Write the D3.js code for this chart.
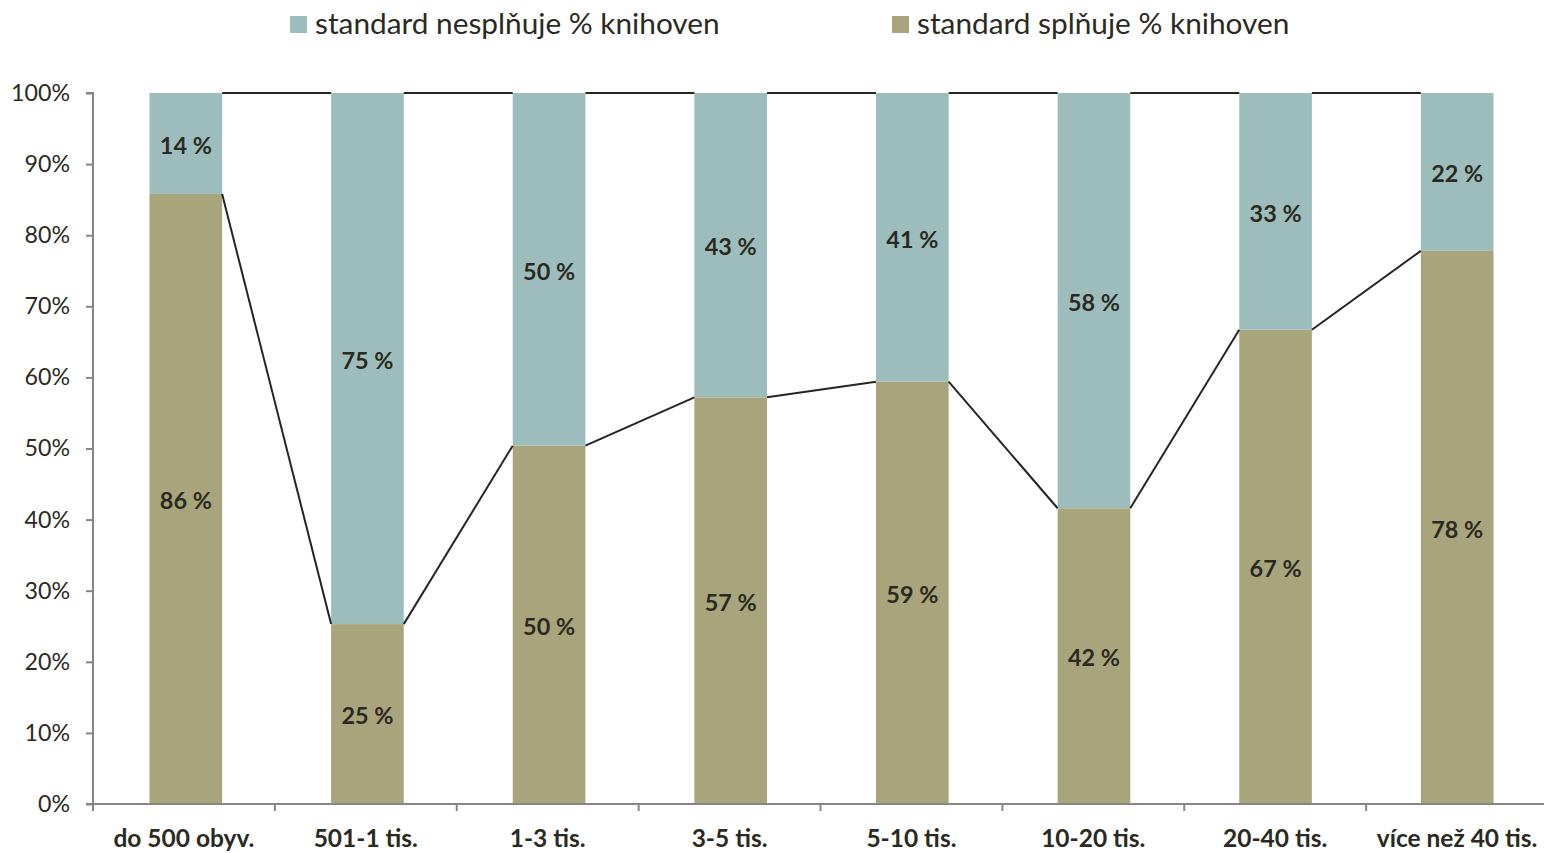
<!DOCTYPE html>
<html><head><meta charset="utf-8">
<script src="https://cdn.jsdelivr.net/npm/d3@7"></script>
<style>body{margin:0;background:#fff}svg{display:block}</style>
</head><body>
<svg id="c" width="1544" height="853"></svg>
<script>
const categories = ["do 500 obyv.","501-1 tis.","1-3 tis.","3-5 tis.","5-10 tis.","10-20 tis.","20-40 tis.","více než 40 tis."];
const splnuje = [85.8, 25.3, 50.4, 57.2, 59.4, 41.6, 66.7, 77.8];
const nesplnuje = [14.2, 74.7, 49.6, 42.8, 40.6, 58.4, 33.3, 22.2];
const seriesNames = ["standard nesplňuje % knihoven","standard splňuje % knihoven"];
const yTicks = [0,10,20,30,40,50,60,70,80,90,100];

const colNe = "#9dbdbc", colSp = "#a8a47b", txt = "#2b2a22", axisCol = "#868686";
const font = "Lato, 'Open Sans', sans-serif";
const svg = d3.select("#c");
const m = {l:93, r:-4, t:93, b:49};
const W = 1544, H = 853;
const x = d3.scaleBand().domain(categories).range([m.l + 2, W - m.r]).paddingInner(0.6).paddingOuter(0.3);
const xs = d3.scaleBand().domain(categories).range([m.l, W - m.r]);
const y = d3.scaleLinear().domain([0,100]).range([H - m.b, m.t]);

// bars
const data = categories.map((c,i)=>({c, s:splnuje[i], n:nesplnuje[i]}));
const g = svg.append("g");
g.selectAll(".sp").data(data).join("rect")
  .attr("x", d=>x(d.c)).attr("width", x.bandwidth())
  .attr("y", d=>y(d.s)).attr("height", d=>y(0)-y(d.s)).attr("fill", colSp);
g.selectAll(".ne").data(data).join("rect")
  .attr("x", d=>x(d.c)).attr("width", x.bandwidth())
  .attr("y", d=>y(d.s+d.n)).attr("height", d=>y(d.s)-y(d.s+d.n)).attr("fill", colNe);

// series lines
for (let i=0;i<data.length-1;i++){
  const a=data[i], b=data[i+1];
  const x1 = x(a.c)+x.bandwidth(), x2 = x(b.c);
  g.append("line").attr("x1",x1).attr("x2",x2).attr("y1",y(a.s)).attr("y2",y(b.s))
    .attr("stroke","#262520").attr("stroke-width",2);
  g.append("line").attr("x1",x1).attr("x2",x2).attr("y1",y(a.s+a.n)).attr("y2",y(b.s+b.n))
    .attr("stroke","#262520").attr("stroke-width",2);
}

// labels
const lab = svg.append("g").attr("font-family",font).attr("font-weight","bold").attr("font-size",23.4).attr("fill",txt).attr("text-anchor","middle");
lab.selectAll(".ls").data(data).join("text")
  .attr("x", d=>x(d.c)+x.bandwidth()/2).attr("y", d=>(y(0)+y(d.s))/2 + 2).attr("dy","0.35em")
  .text(d=>Math.round(d.s)+" %");
lab.selectAll(".ln").data(data).join("text")
  .attr("x", d=>x(d.c)+x.bandwidth()/2).attr("y", d=>(y(d.s)+y(100))/2 + 2).attr("dy","0.35em")
  .text(d=>Math.round(d.n)+" %");

// y axis
const ya = svg.append("g").attr("transform",`translate(${m.l},0)`)
  .call(d3.axisLeft(y).tickValues(yTicks).tickFormat(d=>d+"%").tickSize(7).tickPadding(16));
ya.select(".domain").attr("stroke",axisCol).attr("stroke-width",2).attr("d",`M-7,${y(100)}H0V${y(0)}H-7`);
ya.selectAll(".tick line").attr("stroke",axisCol).attr("stroke-width",2);
ya.selectAll("text").attr("font-family",font).attr("font-size",23.2).attr("fill",txt);

// x axis
const xa = svg.append("g").attr("transform",`translate(0,${y(0)})`);
xa.append("line").attr("x1",m.l).attr("x2",W).attr("y1",0).attr("y2",0).attr("stroke",axisCol).attr("stroke-width",2);
xa.selectAll(".xt").data(categories).join("line")
  .attr("x1",d=>xs(d)).attr("x2",d=>xs(d)).attr("y1",0).attr("y2",7).attr("stroke",axisCol).attr("stroke-width",2);
xa.selectAll(".xl").data(categories).join("text")
  .attr("x",d=>xs(d)+xs.bandwidth()/2).attr("y",34).attr("dy","0.35em")
  .attr("text-anchor","middle").attr("font-family",font).attr("font-weight","bold").attr("font-size",24.5).attr("fill",txt)
  .text(d=>d);

// legend
const leg = svg.append("g").attr("font-family",font).attr("font-size",29.8).attr("fill",txt);
const legItems = [{n:seriesNames[0], c:colNe, x:290},{n:seriesNames[1], c:colSp, x:892}];
legItems.forEach(it=>{
  leg.append("rect").attr("x",it.x).attr("y",16).attr("width",17).attr("height",17).attr("fill",it.c);
  leg.append("text").attr("x",it.x+25).attr("y",24).attr("dy","0.35em").text(it.n);
});
</script>
</body></html>
